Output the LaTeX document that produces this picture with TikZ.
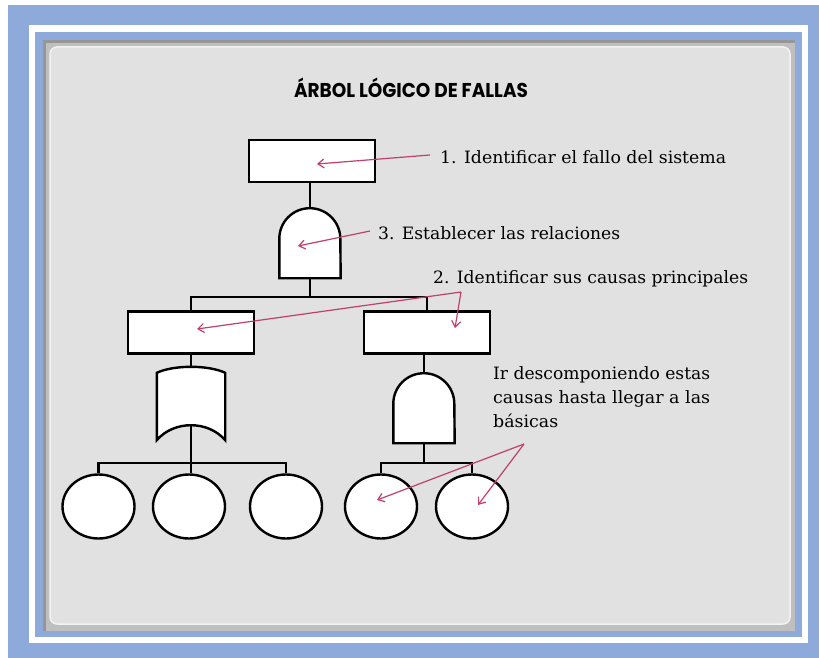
\documentclass[tikz,border=0pt]{standalone}
\usepackage{fontspec}
\usetikzlibrary{shapes.geometric,arrows.meta,calc}
\newfontfamily\notefont{DejaVu Serif}
\newfontfamily\titlefont{Poppins}
\newcommand\fitto[2]{\resizebox{#1}{\height}{#2}}
\definecolor{frameblue}{RGB}{141,170,219}
\definecolor{panelgray}{RGB}{225,225,225}
\definecolor{shadowgray}{RGB}{150,150,150}
\definecolor{arrowred}{RGB}{192,64,104}
\begin{document}
\begin{tikzpicture}[x=1pt,y=1pt,
  box/.style={draw=black,fill=white,line width=2.4pt,rectangle,inner sep=0pt,minimum width=126pt,minimum height=42pt},
  leaf/.style={draw=black,fill=white,line width=2.4pt,ellipse,inner sep=0pt,minimum width=72pt,minimum height=64pt},
  gatebox/.style={rectangle,inner sep=0pt,minimum width=#1,minimum height=70pt},
  wire/.style={line width=2.4pt,black},
  pointer/.style={draw=arrowred,line width=1.2pt,-{Straight Barb[length=6pt,width=9pt]}},
  note/.style={inner sep=0pt,anchor=base west,font=\notefont\fontsize{17}{20}\selectfont},
  heading/.style={inner sep=0pt,anchor=base,font=\titlefont\bfseries\fontsize{20}{24}\selectfont}]
\useasboundingbox (0,0) rectangle (819,-658);
% frame
\fill[white] (0,0) rectangle (819,-658);
\fill[frameblue] (8,-5) rectangle (819,-658);
\fill[white] (29,-25) rectangle (808,-643);
\fill[frameblue] (35,-32) rectangle (802,-637);
\fill[shadowgray] (43,-40) rectangle (795,-631);
\fill[black!25] (46,-43) rectangle (795,-631);
\filldraw[fill=panelgray,draw=white!95!black,line width=1.5pt,rounded corners=7pt] (50,-47) rectangle (790,-624);
% title
\node[heading] (title) at (411,-98) {\fitto{234pt}{ÁRBOL LÓGICO DE FALLAS}};
% nodes
\node[box] (r0) at (312,-161) {};
\node[gatebox=61pt] (a0) at (310,-243) {};
\node[box] (r1) at (191,-332.5) {};
\node[box] (r2) at (427,-332.5) {};
\node[gatebox=68pt,minimum height=73pt] (o1) at (191,-403.5) {};
\node[gatebox=61pt] (a1) at (424,-408) {};
\node[leaf] (e1) at (98.5,-506.5) {};
\node[leaf] (e2) at (189,-506.5) {};
\node[leaf] (e3) at (286,-506.5) {};
\node[leaf] (e4) at (381,-506.5) {};
\node[leaf] (e5) at (472,-506.5) {};
% junctions
\coordinate (j1) at (310,-297);
\coordinate (j2) at (190,-463);
\coordinate (j3) at (424,-463);
\coordinate (o1c) at ($(o1.south)+(0,15)$);
% connectors
\draw[wire] (a0.north) -- (a0.north |- r0.south);
\draw[wire] (a0.south) -- (j1);
\draw[wire] (r1.north) |- (j1) -| (r2.north);
\draw[wire] (o1.north) -- (o1.north |- r1.south);
\draw[wire] (a1.north) -- (a1.north |- r2.south);
\draw[wire] (o1c) -- (o1c |- e2.north);
\draw[wire] (e1.north) |- (j2) -| (e3.north);
\draw[wire] (a1.south) -- (j3);
\draw[wire] (e4.north) |- (j3) -| (e5.north);
% gates
\draw[wire,fill=white] (a0.south west) -- ++(0,39.5) arc[start angle=180,end angle=0,radius=30.5] -- (a0.south east) -- cycle;
\draw[wire,fill=white] (a1.south west) -- ++(0,39.5) arc[start angle=180,end angle=0,radius=30.5] -- (a1.south east) -- cycle;
\draw[wire,fill=white] ([yshift=-6pt]o1.north west) .. controls ([xshift=17pt,yshift=2pt]o1.north west) and ([xshift=-17pt,yshift=2pt]o1.north east) .. ([yshift=-6pt]o1.north east) -- (o1.south east) .. controls ([xshift=-17pt,yshift=20pt]o1.south east) and ([xshift=17pt,yshift=20pt]o1.south west) .. (o1.south west) -- cycle;
% notes
\node[note] (t1) at (440,-164) {\fitto{286pt}{1. Identificar el fallo del sistema}};
\node[note] (t3) at (378,-239) {\fitto{242pt}{3. Establecer las relaciones}};
\node[note] (t2) at (433,-283) {\fitto{315pt}{2. Identificar sus causas principales}};
\node[note] (t4a) at (493,-379) {\fitto{217pt}{Ir descomponiendo estas}};
\node[note] (t4b) at (493,-403) {\fitto{217pt}{causas hasta llegar a las}};
\node[note] (t4c) at (493,-427) {\fitto{65pt}{básicas}};
% pointer arrows
\coordinate (p1) at (317,-164);
\coordinate (p3) at (298,-246);
\coordinate (q2) at (461,-292);
\coordinate (p2a) at (197,-329);
\coordinate (p2b) at (455,-328);
\coordinate (q4) at (524,-444);
\coordinate (p4a) at (377,-500);
\coordinate (p4b) at (478,-505);
\draw[pointer] ([xshift=-10pt,yshift=9pt]t1.base west) -- (p1);
\draw[pointer] ([xshift=-8pt,yshift=8pt]t3.base west) -- (p3);
\draw[pointer] (q2) -- (p2a);
\draw[pointer] (q2) -- (p2b);
\draw[pointer] (q4) -- (p4a);
\draw[pointer] (q4) -- (p4b);
\end{tikzpicture}
\end{document}
